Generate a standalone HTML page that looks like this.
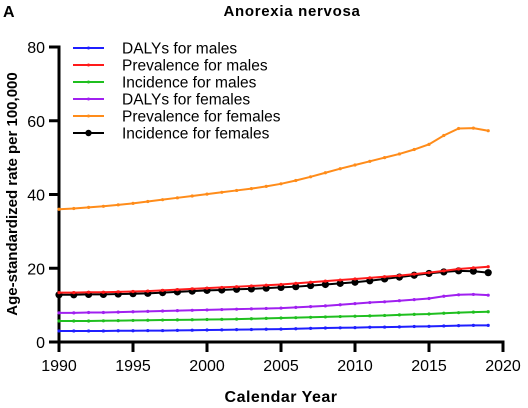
<!DOCTYPE html>
<html><head><meta charset="utf-8"><style>
body{margin:0;background:#fff}
svg{display:block;font-family:"Liberation Sans",Arial,sans-serif}
</style></head><body>
<svg id="chart" width="528" height="408" viewBox="0 0 528 408">
<text x="3" y="17" font-size="16" font-weight="bold">A</text>
<text x="292" y="16" font-size="15" font-weight="bold" text-anchor="middle" letter-spacing="0.7">Anorexia nervosa</text>
<text transform="translate(17,194) rotate(-90)" font-size="15" font-weight="bold" text-anchor="middle">Age-standardized rate per 100,000</text>
<text x="281" y="402" font-size="16" font-weight="bold" text-anchor="middle" letter-spacing="0.5">Calendar Year</text>
<g id="axes"></g><g id="series"></g><g id="legend"></g>
</svg>
<script>
const years=[1990,1991,1992,1993,1994,1995,1996,1997,1998,1999,2000,2001,2002,2003,2004,2005,2006,2007,2008,2009,2010,2011,2012,2013,2014,2015,2016,2017,2018,2019];
const dalyMales=[3.0,3.0,3.0,3.0,3.05,3.05,3.1,3.1,3.15,3.2,3.25,3.3,3.35,3.4,3.45,3.5,3.6,3.7,3.8,3.85,3.9,4.0,4.05,4.1,4.2,4.25,4.35,4.45,4.5,4.5];
const prevMales=[13.4,13.4,13.5,13.5,13.6,13.7,13.8,14.0,14.2,14.4,14.6,14.8,15.0,15.2,15.4,15.6,15.9,16.2,16.5,16.8,17.1,17.4,17.7,18.0,18.4,18.8,19.3,19.8,20.1,20.4];
const incFemales=[12.8,12.8,12.9,12.9,13.0,13.1,13.2,13.4,13.6,13.8,14.0,14.1,14.3,14.4,14.6,14.8,15.0,15.3,15.6,15.9,16.2,16.6,17.1,17.6,18.1,18.6,19.0,19.3,19.2,18.8];
const incMales=[5.7,5.7,5.7,5.75,5.8,5.85,5.9,5.95,6.0,6.05,6.1,6.15,6.2,6.3,6.4,6.5,6.6,6.7,6.8,6.9,7.0,7.1,7.2,7.35,7.5,7.6,7.8,7.95,8.1,8.2];
const dalyFemales=[7.9,7.9,8.0,8.0,8.1,8.2,8.3,8.4,8.5,8.6,8.7,8.8,8.9,9.0,9.1,9.2,9.4,9.6,9.8,10.1,10.4,10.7,10.9,11.2,11.5,11.8,12.4,12.8,12.9,12.7];
const prevFemales=[36.0,36.2,36.5,36.8,37.2,37.6,38.1,38.6,39.1,39.6,40.1,40.6,41.1,41.6,42.2,42.9,43.8,44.8,45.9,47.0,48.0,49.0,50.0,51.0,52.2,53.6,56.0,57.9,58.0,57.3];
const seriesNames=["DALYs for males","Prevalence for males","Incidence for males","DALYs for females","Prevalence for females","Incidence for females"];
const seriesData=[dalyMales,prevMales,incMales,dalyFemales,prevFemales,incFemales];
const seriesColors=["#1f1fff","#ff1a1a","#1fbf1f","#a020f0","#ff8c1a","#000000"];
const seriesKeys=["dalys-males","prevalence-males","incidence-males","dalys-females","prevalence-females","incidence-females"];
const drawOrder=[0,2,3,4,5,1];
const xTicks=[1990,1995,2000,2005,2010,2015,2020];
const yTicks=[0,20,40,60,80];
const NS="http://www.w3.org/2000/svg";
const X0=59,X1=503,Y0=342,Y1=47;
function xs(v){return X0+(v-1990)/30*(X1-X0);}
function ys(v){return Y0-v/80*(Y0-Y1);}
function mk(t,a,p){const e=document.createElementNS(NS,t);for(const k in a)e.setAttribute(k,a[k]);p.appendChild(e);return e;}
const ax=document.getElementById('axes');
let l=mk('line',{x1:X0,y1:Y1-1.5,x2:X0,y2:Y0+1.5,stroke:'#000','stroke-width':3},ax);


l=mk('line',{x1:X0-1.5,y1:Y0,x2:X1+1.5,y2:Y0,stroke:'#000','stroke-width':3},ax);


yTicks.forEach(v=>{
 const t=mk('line',{x1:X0-10,y1:ys(v),x2:X0,y2:ys(v),stroke:'#000','stroke-width':3},ax);
 
 
 const tx=mk('text',{x:X0-14,y:ys(v)+6,'font-size':16,'text-anchor':'end'},ax);tx.textContent=v;
 
 
});
xTicks.forEach(v=>{
 const t=mk('line',{x1:xs(v),y1:Y0,x2:xs(v),y2:Y0+10,stroke:'#000','stroke-width':3},ax);
 
 
 const tx=mk('text',{x:xs(v),y:Y0+29,'font-size':16,'text-anchor':'middle'},ax);tx.textContent=v;
 
 
});
const sg=document.getElementById('series');
drawOrder.forEach(i=>{
 const d=seriesData[i];
 const g=mk('g',{},sg);
 
 
 const pts=d.map((v,j)=>xs(years[j])+','+ys(v)).join(' ');
 mk('polyline',{points:pts,fill:'none',stroke:seriesColors[i],'stroke-width':2},g);
 d.forEach((v,j)=>{
  const c=mk('circle',{cx:xs(years[j]),cy:ys(v),r:i==5?3.6:1.6,fill:seriesColors[i]},g);
  
  
 });
});
const lg=document.getElementById('legend');
seriesNames.forEach((n,i)=>{
 const y=48+i*17;
 const g=mk('g',{},lg);
 
 
 mk('line',{x1:73,y1:y,x2:104,y2:y,stroke:seriesColors[i],'stroke-width':2},g);
 mk('circle',{cx:88.5,cy:y,r:i==5?3.2:1.5,fill:seriesColors[i]},g);
 const t=mk('text',{x:122,y:y+5.5,'font-size':15.5},g);t.textContent=n;
});
</script>
</body></html>
